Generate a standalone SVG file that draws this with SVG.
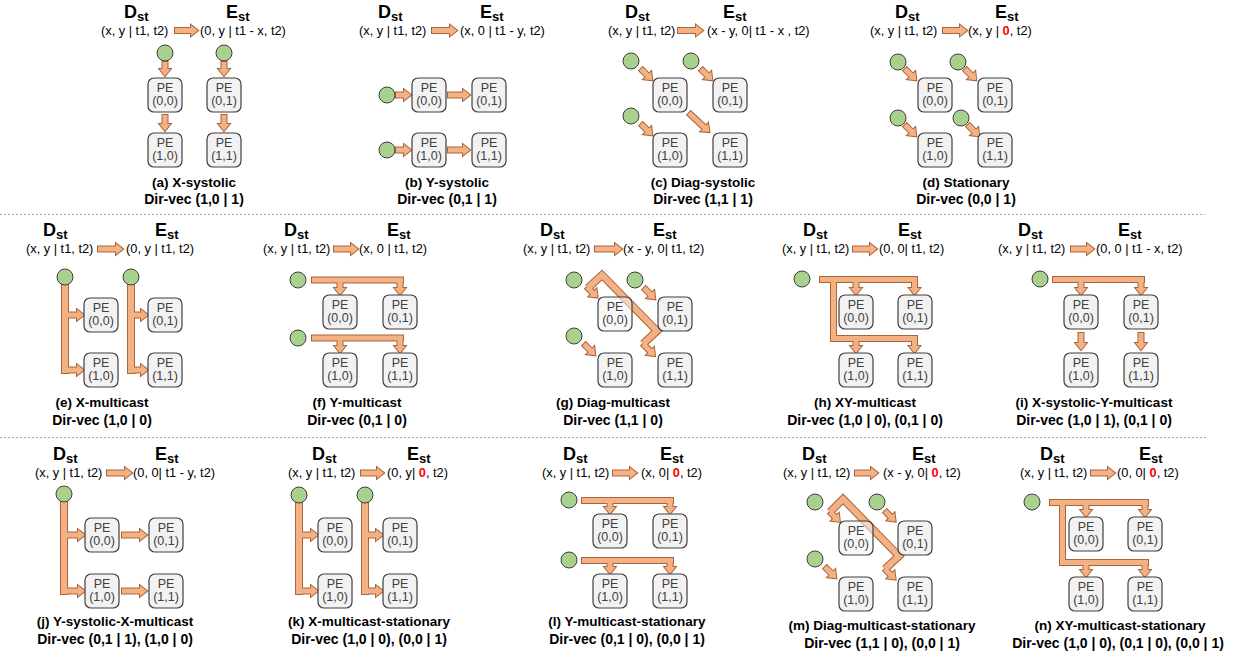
<svg xmlns="http://www.w3.org/2000/svg" width="1244" height="658" viewBox="0 0 1244 658">
<style>
text{font-family:"Liberation Sans",Arial,sans-serif;fill:#000}
.dh{font-weight:bold;font-size:18px}
.sub{font-size:13px}
.fm{font-size:12.8px}
.red{fill:#FF0000;font-weight:bold}
.cap{font-weight:bold;font-size:13.5px;text-anchor:middle}
.dv{font-weight:bold;font-size:14px;text-anchor:middle}
.pt{font-size:12.5px;fill:#404040;text-anchor:middle}
.pe{fill:#F2F2F2;stroke:#3F3F3F;stroke-width:1.2}
.see{fill-opacity:0.55}
.src{fill:#A9D18E;stroke:#3F3F3F;stroke-width:1}
.ol{fill:#F4B183;stroke:#A8643A;stroke-width:2;stroke-linejoin:miter}
.fl{fill:#F4B183;stroke:none}
.dgo{fill:none;stroke:#A8643A;stroke-width:8;stroke-linejoin:miter}
.dgf{fill:none;stroke:#F4B183;stroke-width:6;stroke-linejoin:miter}
.sep{stroke:#A6A6A6;stroke-width:1;stroke-dasharray:2 2}
</style>
<defs>
<g id="cshapes">
<!-- (a) -->
<polygon points="0,-2.5 16,-2.5 16,-5.5 23,0 16,5.5 16,2.5 0,2.5" transform="translate(175,30.5)"/>
<polygon points="0,-2.5 7,-2.5 7,-5.5 14,0 7,5.5 7,2.5 0,2.5" transform="translate(165,62) rotate(90)"/>
<polygon points="0,-2.5 7,-2.5 7,-5.5 14,0 7,5.5 7,2.5 0,2.5" transform="translate(224,62) rotate(90)"/>
<polygon points="0,-2.5 9,-2.5 9,-5.5 16,0 9,5.5 9,2.5 0,2.5" transform="translate(165,115) rotate(90)"/>
<polygon points="0,-2.5 9,-2.5 9,-5.5 16,0 9,5.5 9,2.5 0,2.5" transform="translate(224,115) rotate(90)"/>
<!-- (b) -->
<polygon points="0,-2.5 18,-2.5 18,-5.5 25,0 18,5.5 18,2.5 0,2.5" transform="translate(432,30.5)"/>
<polygon points="0,-2.5 8,-2.5 8,-5.5 15,0 8,5.5 8,2.5 0,2.5" transform="translate(396,95)"/>
<polygon points="0,-2.5 8,-2.5 8,-5.5 15,0 8,5.5 8,2.5 0,2.5" transform="translate(396,150)"/>
<polygon points="0,-2.5 15,-2.5 15,-5.5 22,0 15,5.5 15,2.5 0,2.5" transform="translate(448,95)"/>
<polygon points="0,-2.5 15,-2.5 15,-5.5 22,0 15,5.5 15,2.5 0,2.5" transform="translate(448,150)"/>
<!-- (c) -->
<polygon points="0,-2.5 18,-2.5 18,-5.5 25,0 18,5.5 18,2.5 0,2.5" transform="translate(678,30.5)"/>
<polygon points="0,-2.5 9,-2.5 9,-5.5 16,0 9,5.5 9,2.5 0,2.5" transform="translate(641,69) rotate(45)"/>
<polygon points="0,-2.5 9,-2.5 9,-5.5 16,0 9,5.5 9,2.5 0,2.5" transform="translate(701,69) rotate(45)"/>
<polygon points="0,-2.5 9,-2.5 9,-5.5 16,0 9,5.5 9,2.5 0,2.5" transform="translate(641,124) rotate(45)"/>
<polygon points="0,-2.5 21,-2.5 21,-5.5 28,0 21,5.5 21,2.5 0,2.5" transform="translate(689,113) rotate(43)"/>
<!-- (d) -->
<polygon points="0,-2.5 17,-2.5 17,-5.5 24,0 17,5.5 17,2.5 0,2.5" transform="translate(943,30.5)"/>
<polygon points="0,-2.5 9,-2.5 9,-5.5 16,0 9,5.5 9,2.5 0,2.5" transform="translate(905,69) rotate(45)"/>
<polygon points="0,-2.5 9,-2.5 9,-5.5 16,0 9,5.5 9,2.5 0,2.5" transform="translate(965,69) rotate(45)"/>
<polygon points="0,-2.5 9,-2.5 9,-5.5 16,0 9,5.5 9,2.5 0,2.5" transform="translate(905,125) rotate(45)"/>
<polygon points="0,-2.5 9,-2.5 9,-5.5 16,0 9,5.5 9,2.5 0,2.5" transform="translate(968,125) rotate(45)"/>
<!-- (e) -->
<polygon points="0,-2.5 18,-2.5 18,-5.5 25,0 18,5.5 18,2.5 0,2.5" transform="translate(98,249)"/>
<rect x="62" y="285" width="6" height="88"/>
<polygon points="0,-2.5 12,-2.5 12,-5.5 19,0 12,5.5 12,2.5 0,2.5" transform="translate(65,315)"/>
<polygon points="0,-2.5 15,-2.5 15,-5.5 22,0 15,5.5 15,2.5 0,2.5" transform="translate(62,370)"/>
<rect x="128" y="285" width="6" height="88"/>
<polygon points="0,-2.5 10,-2.5 10,-5.5 17,0 10,5.5 10,2.5 0,2.5" transform="translate(131,315)"/>
<polygon points="0,-2.5 13,-2.5 13,-5.5 20,0 13,5.5 13,2.5 0,2.5" transform="translate(128,370)"/>
<!-- (f) -->
<polygon points="0,-2.5 17,-2.5 17,-5.5 24,0 17,5.5 17,2.5 0,2.5" transform="translate(334,249)"/>
<rect x="312" y="277.5" width="91" height="5"/>
<polygon points="0,-2.5 8,-2.5 8,-5.5 15,0 8,5.5 8,2.5 0,2.5" transform="translate(340,280) rotate(90)"/>
<polygon points="0,-2.5 8,-2.5 8,-5.5 15,0 8,5.5 8,2.5 0,2.5" transform="translate(400,280) rotate(90)"/>
<rect x="312" y="335.5" width="91" height="5"/>
<polygon points="0,-2.5 8,-2.5 8,-5.5 15,0 8,5.5 8,2.5 0,2.5" transform="translate(340,338) rotate(90)"/>
<polygon points="0,-2.5 8,-2.5 8,-5.5 15,0 8,5.5 8,2.5 0,2.5" transform="translate(400,338) rotate(90)"/>
<!-- (g) -->
<polygon points="0,-2.5 20,-2.5 20,-5.5 27,0 20,5.5 20,2.5 0,2.5" transform="translate(595,249)"/>
<polygon points="0,-2.5 9,-2.5 9,-5.5 16,0 9,5.5 9,2.5 0,2.5" transform="translate(644,288) rotate(45)"/>
<polygon points="0,-2.5 9,-2.5 9,-5.5 16,0 9,5.5 9,2.5 0,2.5" transform="translate(584,344) rotate(45)"/>
<polygon points="0,-2.5 8,-2.5 8,-5.5 15,0 8,5.5 8,2.5 0,2.5" transform="translate(587,287) rotate(45)"/>
<polygon points="0,-2.5 10,-2.5 10,-5.5 17,0 10,5.5 10,2.5 0,2.5" transform="translate(643,344) rotate(45)"/>
<!-- (h) -->
<polygon points="0,-2.5 17,-2.5 17,-5.5 24,0 17,5.5 17,2.5 0,2.5" transform="translate(853,249)"/>
<rect x="820" y="277" width="97" height="5"/>
<rect x="831" y="282" width="5" height="59"/>
<rect x="831" y="336" width="86" height="5"/>
<polygon points="0,-2.5 8,-2.5 8,-5.5 15,0 8,5.5 8,2.5 0,2.5" transform="translate(856,280) rotate(90)"/>
<polygon points="0,-2.5 8,-2.5 8,-5.5 15,0 8,5.5 8,2.5 0,2.5" transform="translate(914.5,280) rotate(90)"/>
<polygon points="0,-2.5 7,-2.5 7,-5.5 14,0 7,5.5 7,2.5 0,2.5" transform="translate(856,339) rotate(90)"/>
<polygon points="0,-2.5 7,-2.5 7,-5.5 14,0 7,5.5 7,2.5 0,2.5" transform="translate(914.5,339) rotate(90)"/>
<!-- (i) -->
<polygon points="0,-2.5 16,-2.5 16,-5.5 23,0 16,5.5 16,2.5 0,2.5" transform="translate(1071,249)"/>
<rect x="1053" y="277" width="91" height="5"/>
<polygon points="0,-2.5 8,-2.5 8,-5.5 15,0 8,5.5 8,2.5 0,2.5" transform="translate(1081,280) rotate(90)"/>
<polygon points="0,-2.5 8,-2.5 8,-5.5 15,0 8,5.5 8,2.5 0,2.5" transform="translate(1141,280) rotate(90)"/>
<polygon points="0,-2.5 10,-2.5 10,-5.5 17,0 10,5.5 10,2.5 0,2.5" transform="translate(1081,333) rotate(90)"/>
<polygon points="0,-2.5 10,-2.5 10,-5.5 17,0 10,5.5 10,2.5 0,2.5" transform="translate(1141,333) rotate(90)"/>
<!-- (j) -->
<polygon points="0,-2.5 18,-2.5 18,-5.5 25,0 18,5.5 18,2.5 0,2.5" transform="translate(107,473)"/>
<rect x="61" y="502" width="6" height="92"/>
<polygon points="0,-2.5 14,-2.5 14,-5.5 21,0 14,5.5 14,2.5 0,2.5" transform="translate(64,535)"/>
<polygon points="0,-2.5 17,-2.5 17,-5.5 24,0 17,5.5 17,2.5 0,2.5" transform="translate(61,591)"/>
<polygon points="0,-2.5 18,-2.5 18,-5.5 25,0 18,5.5 18,2.5 0,2.5" transform="translate(122,535)"/>
<polygon points="0,-2.5 18,-2.5 18,-5.5 25,0 18,5.5 18,2.5 0,2.5" transform="translate(122,591)"/>
<!-- (k) -->
<polygon points="0,-2.5 16,-2.5 16,-5.5 23,0 16,5.5 16,2.5 0,2.5" transform="translate(361,473)"/>
<rect x="296" y="503" width="6" height="91"/>
<polygon points="0,-2.5 12,-2.5 12,-5.5 19,0 12,5.5 12,2.5 0,2.5" transform="translate(299,535)"/>
<polygon points="0,-2.5 15,-2.5 15,-5.5 22,0 15,5.5 15,2.5 0,2.5" transform="translate(296,591)"/>
<rect x="362" y="503" width="6" height="91"/>
<polygon points="0,-2.5 11,-2.5 11,-5.5 18,0 11,5.5 11,2.5 0,2.5" transform="translate(365,535)"/>
<polygon points="0,-2.5 14,-2.5 14,-5.5 21,0 14,5.5 14,2.5 0,2.5" transform="translate(362,591)"/>
<!-- (l) -->
<polygon points="0,-2.5 17,-2.5 17,-5.5 24,0 17,5.5 17,2.5 0,2.5" transform="translate(613,473)"/>
<rect x="582" y="498" width="91" height="5"/>
<polygon points="0,-2.5 6,-2.5 6,-5.5 13,0 6,5.5 6,2.5 0,2.5" transform="translate(610,501) rotate(90)"/>
<polygon points="0,-2.5 6,-2.5 6,-5.5 13,0 6,5.5 6,2.5 0,2.5" transform="translate(670,501) rotate(90)"/>
<rect x="582" y="558" width="91" height="5"/>
<polygon points="0,-2.5 6,-2.5 6,-5.5 13,0 6,5.5 6,2.5 0,2.5" transform="translate(610,561) rotate(90)"/>
<polygon points="0,-2.5 6,-2.5 6,-5.5 13,0 6,5.5 6,2.5 0,2.5" transform="translate(670,561) rotate(90)"/>
<!-- (m) -->
<polygon points="0,-2.5 16,-2.5 16,-5.5 23,0 16,5.5 16,2.5 0,2.5" transform="translate(855,473)"/>
<polygon points="0,-2.5 8,-2.5 8,-5.5 15,0 8,5.5 8,2.5 0,2.5" transform="translate(885,511) rotate(45)"/>
<polygon points="0,-2.5 9,-2.5 9,-5.5 16,0 9,5.5 9,2.5 0,2.5" transform="translate(825,567) rotate(45)"/>
<polygon points="0,-2.5 7,-2.5 7,-5.5 14,0 7,5.5 7,2.5 0,2.5" transform="translate(830,512) rotate(45)"/>
<polygon points="0,-2.5 8,-2.5 8,-5.5 15,0 8,5.5 8,2.5 0,2.5" transform="translate(885,569) rotate(45)"/>
<!-- (n) -->
<polygon points="0,-2.5 17,-2.5 17,-5.5 24,0 17,5.5 17,2.5 0,2.5" transform="translate(1091,473)"/>
<rect x="1050" y="500" width="98" height="5"/>
<rect x="1060" y="505" width="5" height="60"/>
<rect x="1060" y="560" width="88" height="5"/>
<polygon points="0,-2.5 7,-2.5 7,-5.5 14,0 7,5.5 7,2.5 0,2.5" transform="translate(1086,503) rotate(90)"/>
<polygon points="0,-2.5 7,-2.5 7,-5.5 14,0 7,5.5 7,2.5 0,2.5" transform="translate(1145,503) rotate(90)"/>
<polygon points="0,-2.5 7,-2.5 7,-5.5 14,0 7,5.5 7,2.5 0,2.5" transform="translate(1086,563) rotate(90)"/>
<polygon points="0,-2.5 7,-2.5 7,-5.5 14,0 7,5.5 7,2.5 0,2.5" transform="translate(1145,563) rotate(90)"/>
</g>
</defs>

<g id="separators">
<line class="sep" x1="0" y1="214.5" x2="1205" y2="214.5"/>
<line class="sep" x1="0" y1="437.5" x2="1207" y2="437.5"/>
</g>

<g id="connectors">
<path class="dgo" d="M588,288 L602,275 L657,331 L643,344"/>
<path class="dgo" d="M830,512 L843,499 L899,556 L885,569"/>
<use href="#cshapes" class="ol"/>
<path class="dgf" d="M588,288 L602,275 L657,331 L643,344"/>
<path class="dgf" d="M830,512 L843,499 L899,556 L885,569"/>
<use href="#cshapes" class="fl"/>
</g>

<g id="labels">
<!-- row 1 -->
<text class="dh" x="124" y="17.5">D<tspan class="sub" dy="3">st</tspan></text>
<text class="dh" x="226" y="17.5">E<tspan class="sub" dy="3">st</tspan></text>
<text class="fm" x="101" y="35">(x, y | t1, t2)</text>
<text class="fm" x="200" y="35">(0, y | t1 - x, t2)</text>
<text class="cap" x="194" y="187">(a) X-systolic</text>
<text class="dv" x="194" y="204">Dir-vec (1,0 | 1)</text>

<text class="dh" x="378" y="17.5">D<tspan class="sub" dy="3">st</tspan></text>
<text class="dh" x="480" y="17.5">E<tspan class="sub" dy="3">st</tspan></text>
<text class="fm" x="359" y="35">(x, y | t1, t2)</text>
<text class="fm" x="460" y="35">(x, 0 | t1 - y, t2)</text>
<text class="cap" x="447" y="187">(b) Y-systolic</text>
<text class="dv" x="447" y="204">Dir-vec (0,1 | 1)</text>

<text class="dh" x="625" y="17.5">D<tspan class="sub" dy="3">st</tspan></text>
<text class="dh" x="723" y="17.5">E<tspan class="sub" dy="3">st</tspan></text>
<text class="fm" x="608" y="35">(x, y | t1, t2)</text>
<text class="fm" x="707" y="35">(x - y, 0| t1 - x , t2)</text>
<text class="cap" x="703" y="187">(c) Diag-systolic</text>
<text class="dv" x="703" y="204">Dir-vec (1,1 | 1)</text>

<text class="dh" x="895" y="17.5">D<tspan class="sub" dy="3">st</tspan></text>
<text class="dh" x="995" y="17.5">E<tspan class="sub" dy="3">st</tspan></text>
<text class="fm" x="870" y="35">(x, y | t1, t2)</text>
<text class="fm" x="968" y="35">(x, y | <tspan class="red">0</tspan>, t2)</text>
<text class="cap" x="966" y="187">(d) Stationary</text>
<text class="dv" x="966" y="204">Dir-vec (0,0 | 1)</text>

<!-- row 2 -->
<text class="dh" x="43" y="235.5">D<tspan class="sub" dy="3">st</tspan></text>
<text class="dh" x="155" y="235.5">E<tspan class="sub" dy="3">st</tspan></text>
<text class="fm" x="26" y="253">(x, y | t1, t2)</text>
<text class="fm" x="126" y="253">(0, y | t1, t2)</text>
<text class="cap" x="102" y="407">(e) X-multicast</text>
<text class="dv" x="102" y="425">Dir-vec (1,0 | 0)</text>

<text class="dh" x="284" y="235.5">D<tspan class="sub" dy="3">st</tspan></text>
<text class="dh" x="387" y="235.5">E<tspan class="sub" dy="3">st</tspan></text>
<text class="fm" x="263" y="253">(x, y | t1, t2)</text>
<text class="fm" x="359" y="253">(x, 0 | t1, t2)</text>
<text class="cap" x="357" y="407">(f) Y-multicast</text>
<text class="dv" x="357" y="425">Dir-vec (0,1 | 0)</text>

<text class="dh" x="540" y="235.5">D<tspan class="sub" dy="3">st</tspan></text>
<text class="dh" x="653" y="235.5">E<tspan class="sub" dy="3">st</tspan></text>
<text class="fm" x="523" y="253">(x, y | t1, t2)</text>
<text class="fm" x="623" y="253">(x - y, 0| t1, t2)</text>
<text class="cap" x="613" y="407">(g) Diag-multicast</text>
<text class="dv" x="613" y="425">Dir-vec (1,1 | 0)</text>

<text class="dh" x="803" y="235.5">D<tspan class="sub" dy="3">st</tspan></text>
<text class="dh" x="898" y="235.5">E<tspan class="sub" dy="3">st</tspan></text>
<text class="fm" x="782" y="253">(x, y | t1, t2)</text>
<text class="fm" x="879" y="253">(0, 0| t1, t2)</text>
<text class="cap" x="865" y="407">(h) XY-multicast</text>
<text class="dv" x="865" y="425">Dir-vec (1,0 | 0), (0,1 | 0)</text>

<text class="dh" x="1018" y="235.5">D<tspan class="sub" dy="3">st</tspan></text>
<text class="dh" x="1118" y="235.5">E<tspan class="sub" dy="3">st</tspan></text>
<text class="fm" x="998" y="253">(x, y | t1, t2)</text>
<text class="fm" x="1096" y="253">(0, 0 | t1 - x, t2)</text>
<text class="cap" x="1094" y="407">(i) X-systolic-Y-multicast</text>
<text class="dv" x="1094" y="425">Dir-vec (1,0 | 1), (0,1 | 0)</text>

<!-- row 3 -->
<text class="dh" x="53" y="459.5">D<tspan class="sub" dy="3">st</tspan></text>
<text class="dh" x="155" y="459.5">E<tspan class="sub" dy="3">st</tspan></text>
<text class="fm" x="35" y="477">(x, y | t1, t2)</text>
<text class="fm" x="133" y="477">(0, 0| t1 - y, t2)</text>
<text class="cap" x="115" y="626">(j) Y-systolic-X-multicast</text>
<text class="dv" x="115" y="644">Dir-vec (0,1 | 1), (1,0 | 0)</text>

<text class="dh" x="312" y="459.5">D<tspan class="sub" dy="3">st</tspan></text>
<text class="dh" x="407" y="459.5">E<tspan class="sub" dy="3">st</tspan></text>
<text class="fm" x="288" y="477">(x, y | t1, t2)</text>
<text class="fm" x="387" y="477">(0, y| <tspan class="red">0</tspan>, t2)</text>
<text class="cap" x="369" y="626">(k) X-multicast-stationary</text>
<text class="dv" x="369" y="644">Dir-vec (1,0 | 0), (0,0 | 1)</text>

<text class="dh" x="563" y="459.5">D<tspan class="sub" dy="3">st</tspan></text>
<text class="dh" x="660" y="459.5">E<tspan class="sub" dy="3">st</tspan></text>
<text class="fm" x="542" y="477">(x, y | t1, t2)</text>
<text class="fm" x="641" y="477">(x, 0| <tspan class="red">0</tspan>, t2)</text>
<text class="cap" x="627" y="626">(l) Y-multicast-stationary</text>
<text class="dv" x="627" y="644">Dir-vec (0,1 | 0), (0,0 | 1)</text>

<text class="dh" x="802" y="459.5">D<tspan class="sub" dy="3">st</tspan></text>
<text class="dh" x="912" y="459.5">E<tspan class="sub" dy="3">st</tspan></text>
<text class="fm" x="783" y="477">(x, y | t1, t2)</text>
<text class="fm" x="883" y="477">(x - y, 0| <tspan class="red">0</tspan>, t2)</text>
<text class="cap" x="882" y="630">(m) Diag-multicast-stationary</text>
<text class="dv" x="882" y="648">Dir-vec (1,1 | 0), (0,0 | 1)</text>

<text class="dh" x="1040" y="459.5">D<tspan class="sub" dy="3">st</tspan></text>
<text class="dh" x="1139" y="459.5">E<tspan class="sub" dy="3">st</tspan></text>
<text class="fm" x="1020" y="477">(x, y | t1, t2)</text>
<text class="fm" x="1117" y="477">(0, 0| <tspan class="red">0</tspan>, t2)</text>
<text class="cap" x="1120" y="630">(n) XY-multicast-stationary</text>
<text class="dv" x="1118" y="648">Dir-vec (1,0 | 0), (0,1 | 0), (0,0 | 1)</text>
</g>

<g id="nodes">
<!-- (a) -->
<g id="a-src0"><circle class="src" cx="165" cy="53" r="8"/></g>
<g id="a-src1"><circle class="src" cx="224" cy="53" r="8"/></g>
<g id="a-pe00"><rect class="pe" x="148" y="78" width="34" height="34" rx="6"/><text class="pt" x="165" y="92">PE</text><text class="pt" x="165" y="105">(0,0)</text></g>
<g id="a-pe01"><rect class="pe" x="207" y="78" width="34" height="34" rx="6"/><text class="pt" x="224" y="92">PE</text><text class="pt" x="224" y="105">(0,1)</text></g>
<g id="a-pe10"><rect class="pe" x="148" y="133" width="34" height="34" rx="6"/><text class="pt" x="165" y="147">PE</text><text class="pt" x="165" y="160">(1,0)</text></g>
<g id="a-pe11"><rect class="pe" x="207" y="133" width="34" height="34" rx="6"/><text class="pt" x="224" y="147">PE</text><text class="pt" x="224" y="160">(1,1)</text></g>
<!-- (b) -->
<g id="b-src0"><circle class="src" cx="387" cy="95" r="8"/></g>
<g id="b-src1"><circle class="src" cx="387" cy="150" r="8"/></g>
<g id="b-pe00"><rect class="pe" x="412" y="78" width="34" height="34" rx="6"/><text class="pt" x="429" y="92">PE</text><text class="pt" x="429" y="105">(0,0)</text></g>
<g id="b-pe01"><rect class="pe" x="472" y="78" width="34" height="34" rx="6"/><text class="pt" x="489" y="92">PE</text><text class="pt" x="489" y="105">(0,1)</text></g>
<g id="b-pe10"><rect class="pe" x="412" y="133" width="34" height="34" rx="6"/><text class="pt" x="429" y="147">PE</text><text class="pt" x="429" y="160">(1,0)</text></g>
<g id="b-pe11"><rect class="pe" x="472" y="133" width="34" height="34" rx="6"/><text class="pt" x="489" y="147">PE</text><text class="pt" x="489" y="160">(1,1)</text></g>
<!-- (c) -->
<g id="c-src0"><circle class="src" cx="631" cy="61" r="8"/></g>
<g id="c-src1"><circle class="src" cx="691" cy="61" r="8"/></g>
<g id="c-src2"><circle class="src" cx="631" cy="116" r="8"/></g>
<g id="c-pe00"><rect class="pe" x="653" y="78" width="34" height="34" rx="6"/><text class="pt" x="670" y="92">PE</text><text class="pt" x="670" y="105">(0,0)</text></g>
<g id="c-pe01"><rect class="pe" x="713" y="78" width="34" height="34" rx="6"/><text class="pt" x="730" y="92">PE</text><text class="pt" x="730" y="105">(0,1)</text></g>
<g id="c-pe10"><rect class="pe" x="653" y="133" width="34" height="34" rx="6"/><text class="pt" x="670" y="147">PE</text><text class="pt" x="670" y="160">(1,0)</text></g>
<g id="c-pe11"><rect class="pe" x="713" y="133" width="34" height="34" rx="6"/><text class="pt" x="730" y="147">PE</text><text class="pt" x="730" y="160">(1,1)</text></g>
<!-- (d) -->
<g id="d-src0"><circle class="src" cx="898" cy="62" r="8"/></g>
<g id="d-src1"><circle class="src" cx="958" cy="62" r="8"/></g>
<g id="d-src2"><circle class="src" cx="898" cy="118" r="8"/></g>
<g id="d-src3"><circle class="src" cx="961" cy="118" r="8"/></g>
<g id="d-pe00"><rect class="pe" x="918" y="78" width="34" height="34" rx="6"/><text class="pt" x="935" y="92">PE</text><text class="pt" x="935" y="105">(0,0)</text></g>
<g id="d-pe01"><rect class="pe" x="978" y="78" width="34" height="34" rx="6"/><text class="pt" x="995" y="92">PE</text><text class="pt" x="995" y="105">(0,1)</text></g>
<g id="d-pe10"><rect class="pe" x="918" y="133" width="34" height="34" rx="6"/><text class="pt" x="935" y="147">PE</text><text class="pt" x="935" y="160">(1,0)</text></g>
<g id="d-pe11"><rect class="pe" x="978" y="133" width="34" height="34" rx="6"/><text class="pt" x="995" y="147">PE</text><text class="pt" x="995" y="160">(1,1)</text></g>
<!-- (e) -->
<g id="e-src0"><circle class="src" cx="65" cy="277" r="8"/></g>
<g id="e-src1"><circle class="src" cx="131" cy="277" r="8"/></g>
<g id="e-pe00"><rect class="pe" x="84" y="298" width="34" height="34" rx="6"/><text class="pt" x="101" y="312">PE</text><text class="pt" x="101" y="325">(0,0)</text></g>
<g id="e-pe01"><rect class="pe" x="148" y="298" width="34" height="34" rx="6"/><text class="pt" x="165" y="312">PE</text><text class="pt" x="165" y="325">(0,1)</text></g>
<g id="e-pe10"><rect class="pe" x="84" y="353" width="34" height="34" rx="6"/><text class="pt" x="101" y="367">PE</text><text class="pt" x="101" y="380">(1,0)</text></g>
<g id="e-pe11"><rect class="pe" x="148" y="353" width="34" height="34" rx="6"/><text class="pt" x="165" y="367">PE</text><text class="pt" x="165" y="380">(1,1)</text></g>
<!-- (f) -->
<g id="f-src0"><circle class="src" cx="298" cy="280" r="8"/></g>
<g id="f-src1"><circle class="src" cx="298" cy="338" r="8"/></g>
<g id="f-pe00"><rect class="pe" x="323" y="295" width="34" height="34" rx="6"/><text class="pt" x="340" y="309">PE</text><text class="pt" x="340" y="322">(0,0)</text></g>
<g id="f-pe01"><rect class="pe" x="383" y="295" width="34" height="34" rx="6"/><text class="pt" x="400" y="309">PE</text><text class="pt" x="400" y="322">(0,1)</text></g>
<g id="f-pe10"><rect class="pe" x="323" y="353" width="34" height="34" rx="6"/><text class="pt" x="340" y="367">PE</text><text class="pt" x="340" y="380">(1,0)</text></g>
<g id="f-pe11"><rect class="pe" x="383" y="353" width="34" height="34" rx="6"/><text class="pt" x="400" y="367">PE</text><text class="pt" x="400" y="380">(1,1)</text></g>
<!-- (g) -->
<g id="g-src0"><circle class="src" cx="574" cy="280" r="8"/></g>
<g id="g-src1"><circle class="src" cx="635" cy="280" r="8"/></g>
<g id="g-src2"><circle class="src" cx="574" cy="336" r="8"/></g>
<g id="g-pe00"><rect class="pe see" x="598" y="297" width="34" height="34" rx="6"/><text class="pt" x="615" y="311">PE</text><text class="pt" x="615" y="324">(0,0)</text></g>
<g id="g-pe01"><rect class="pe" x="658" y="297" width="34" height="34" rx="6"/><text class="pt" x="675" y="311">PE</text><text class="pt" x="675" y="324">(0,1)</text></g>
<g id="g-pe10"><rect class="pe" x="598" y="353" width="34" height="34" rx="6"/><text class="pt" x="615" y="367">PE</text><text class="pt" x="615" y="380">(1,0)</text></g>
<g id="g-pe11"><rect class="pe" x="658" y="353" width="34" height="34" rx="6"/><text class="pt" x="675" y="367">PE</text><text class="pt" x="675" y="380">(1,1)</text></g>
<!-- (h) -->
<g id="h-src0"><circle class="src" cx="802" cy="279" r="8"/></g>
<g id="h-pe00"><rect class="pe" x="839" y="295" width="34" height="34" rx="6"/><text class="pt" x="856" y="309">PE</text><text class="pt" x="856" y="322">(0,0)</text></g>
<g id="h-pe01"><rect class="pe" x="898" y="295" width="34" height="34" rx="6"/><text class="pt" x="915" y="309">PE</text><text class="pt" x="915" y="322">(0,1)</text></g>
<g id="h-pe10"><rect class="pe" x="839" y="353" width="34" height="34" rx="6"/><text class="pt" x="856" y="367">PE</text><text class="pt" x="856" y="380">(1,0)</text></g>
<g id="h-pe11"><rect class="pe" x="898" y="353" width="34" height="34" rx="6"/><text class="pt" x="915" y="367">PE</text><text class="pt" x="915" y="380">(1,1)</text></g>
<!-- (i) -->
<g id="i-src0"><circle class="src" cx="1040" cy="279" r="8"/></g>
<g id="i-pe00"><rect class="pe" x="1064" y="295" width="34" height="34" rx="6"/><text class="pt" x="1081" y="309">PE</text><text class="pt" x="1081" y="322">(0,0)</text></g>
<g id="i-pe01"><rect class="pe" x="1124" y="295" width="34" height="34" rx="6"/><text class="pt" x="1141" y="309">PE</text><text class="pt" x="1141" y="322">(0,1)</text></g>
<g id="i-pe10"><rect class="pe" x="1064" y="353" width="34" height="34" rx="6"/><text class="pt" x="1081" y="367">PE</text><text class="pt" x="1081" y="380">(1,0)</text></g>
<g id="i-pe11"><rect class="pe" x="1124" y="353" width="34" height="34" rx="6"/><text class="pt" x="1141" y="367">PE</text><text class="pt" x="1141" y="380">(1,1)</text></g>
<!-- (j) -->
<g id="j-src0"><circle class="src" cx="64" cy="494" r="8"/></g>
<g id="j-pe00"><rect class="pe" x="85" y="518" width="34" height="34" rx="6"/><text class="pt" x="102" y="532">PE</text><text class="pt" x="102" y="545">(0,0)</text></g>
<g id="j-pe01"><rect class="pe" x="149" y="518" width="34" height="34" rx="6"/><text class="pt" x="166" y="532">PE</text><text class="pt" x="166" y="545">(0,1)</text></g>
<g id="j-pe10"><rect class="pe" x="85" y="574" width="34" height="34" rx="6"/><text class="pt" x="102" y="588">PE</text><text class="pt" x="102" y="601">(1,0)</text></g>
<g id="j-pe11"><rect class="pe" x="149" y="574" width="34" height="34" rx="6"/><text class="pt" x="166" y="588">PE</text><text class="pt" x="166" y="601">(1,1)</text></g>
<!-- (k) -->
<g id="k-src0"><circle class="src" cx="299" cy="495" r="8"/></g>
<g id="k-src1"><circle class="src" cx="365" cy="495" r="8"/></g>
<g id="k-pe00"><rect class="pe" x="318" y="518" width="34" height="34" rx="6"/><text class="pt" x="335" y="532">PE</text><text class="pt" x="335" y="545">(0,0)</text></g>
<g id="k-pe01"><rect class="pe" x="383" y="518" width="34" height="34" rx="6"/><text class="pt" x="400" y="532">PE</text><text class="pt" x="400" y="545">(0,1)</text></g>
<g id="k-pe10"><rect class="pe" x="318" y="574" width="34" height="34" rx="6"/><text class="pt" x="335" y="588">PE</text><text class="pt" x="335" y="601">(1,0)</text></g>
<g id="k-pe11"><rect class="pe" x="383" y="574" width="34" height="34" rx="6"/><text class="pt" x="400" y="588">PE</text><text class="pt" x="400" y="601">(1,1)</text></g>
<!-- (l) -->
<g id="l-src0"><circle class="src" cx="569" cy="500" r="8"/></g>
<g id="l-src1"><circle class="src" cx="569" cy="560" r="8"/></g>
<g id="l-pe00"><rect class="pe" x="593" y="514" width="34" height="34" rx="6"/><text class="pt" x="610" y="528">PE</text><text class="pt" x="610" y="541">(0,0)</text></g>
<g id="l-pe01"><rect class="pe" x="653" y="514" width="34" height="34" rx="6"/><text class="pt" x="670" y="528">PE</text><text class="pt" x="670" y="541">(0,1)</text></g>
<g id="l-pe10"><rect class="pe" x="593" y="574" width="34" height="34" rx="6"/><text class="pt" x="610" y="588">PE</text><text class="pt" x="610" y="601">(1,0)</text></g>
<g id="l-pe11"><rect class="pe" x="653" y="574" width="34" height="34" rx="6"/><text class="pt" x="670" y="588">PE</text><text class="pt" x="670" y="601">(1,1)</text></g>
<!-- (m) -->
<g id="m-src0"><circle class="src" cx="815" cy="502" r="8"/></g>
<g id="m-src1"><circle class="src" cx="877" cy="502" r="8"/></g>
<g id="m-src2"><circle class="src" cx="815" cy="559" r="8"/></g>
<g id="m-pe00"><rect class="pe see" x="839" y="521" width="34" height="34" rx="6"/><text class="pt" x="856" y="535">PE</text><text class="pt" x="856" y="548">(0,0)</text></g>
<g id="m-pe01"><rect class="pe" x="898" y="521" width="34" height="34" rx="6"/><text class="pt" x="915" y="535">PE</text><text class="pt" x="915" y="548">(0,1)</text></g>
<g id="m-pe10"><rect class="pe" x="839" y="577" width="34" height="34" rx="6"/><text class="pt" x="856" y="591">PE</text><text class="pt" x="856" y="604">(1,0)</text></g>
<g id="m-pe11"><rect class="pe" x="898" y="577" width="34" height="34" rx="6"/><text class="pt" x="915" y="591">PE</text><text class="pt" x="915" y="604">(1,1)</text></g>
<!-- (n) -->
<g id="n-src0"><circle class="src" cx="1032" cy="502" r="8"/></g>
<g id="n-pe00"><rect class="pe" x="1069" y="517" width="34" height="34" rx="6"/><text class="pt" x="1086" y="531">PE</text><text class="pt" x="1086" y="544">(0,0)</text></g>
<g id="n-pe01"><rect class="pe" x="1128" y="517" width="34" height="34" rx="6"/><text class="pt" x="1145" y="531">PE</text><text class="pt" x="1145" y="544">(0,1)</text></g>
<g id="n-pe10"><rect class="pe" x="1069" y="577" width="34" height="34" rx="6"/><text class="pt" x="1086" y="591">PE</text><text class="pt" x="1086" y="604">(1,0)</text></g>
<g id="n-pe11"><rect class="pe" x="1128" y="577" width="34" height="34" rx="6"/><text class="pt" x="1145" y="591">PE</text><text class="pt" x="1145" y="604">(1,1)</text></g>
</g>
</svg>
